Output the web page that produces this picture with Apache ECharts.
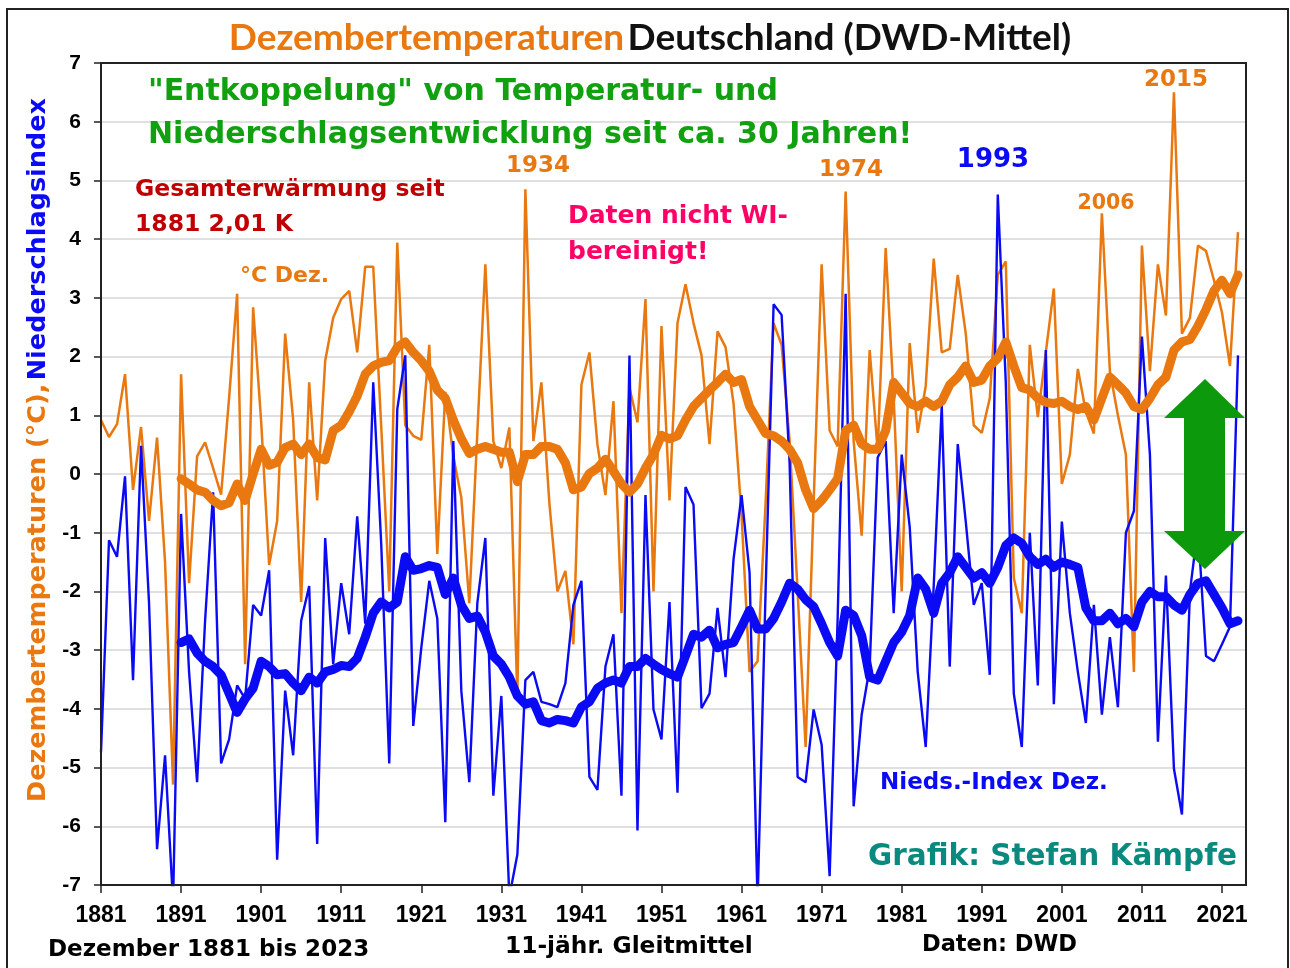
<!DOCTYPE html>
<html>
<head>
<meta charset="utf-8">
<style>
  html, body { margin: 0; padding: 0; background: #fff; }
  #main { width: 1290px; height: 968px; }
</style>
</head>
<body>
<div id="main"></div>
<script src="https://cdn.jsdelivr.net/npm/echarts@6/dist/echarts.min.js"></script>
<script>
// December temperature Germany (DWD mean) and precipitation index, 1881-2023
var firstYear = 1881;
var avgFirstYear = 1891;
var tickYears = [1881, 1891, 1901, 1911, 1921, 1931, 1941, 1951, 1961, 1971, 1981, 1991, 2001, 2011, 2021];

// °C December (thin orange)
var tempDez = [
  0.92, 0.63, 0.85, 1.70, -0.27, 0.80, -0.80, 0.62, -1.50, -5.29,   // 1881-1890
  1.70, -1.86, 0.30, 0.54, 0.10, -0.35, 1.30, 3.07, -3.24, 2.84,    // 1891-1900
  0.90, -1.55, -0.80, 2.39, 0.92, -2.18, 1.56, -0.45, 1.93, 2.66,   // 1901-1910
  2.98, 3.12, 2.07, 3.53, 3.53, 0.80, -2.00, 3.94, 0.83, 0.65,      // 1911-1920
  0.58, 2.20, -1.36, 1.40, 0.30, -0.40, -2.20, 0.70, 3.57, 0.56,    // 1921-1930
  0.10, 0.79, -3.80, 4.85, 0.56, 1.56, -0.50, -2.00, -1.65, -2.90,  // 1931-1940
  1.52, 2.07, 0.50, -0.36, 1.24, -2.37, 1.47, 0.88, 2.98, -2.00,    // 1941-1950
  2.52, -0.45, 2.57, 3.23, 2.57, 2.02, 0.51, 2.43, 2.16, 1.20,      // 1951-1960
  -0.70, -3.37, -3.19, -0.50, 2.57, 2.20, 0.56, -2.00, -4.65, -0.50, // 1961-1970
  3.57, 0.74, 0.47, 4.81, 0.56, -1.05, 2.11, 0.40, 3.85, 1.30,      // 1971-1980
  -2.00, 2.23, 0.70, 1.50, 3.67, 2.07, 2.13, 3.39, 2.39, 0.83,      // 1981-1990
  0.70, 1.29, 3.39, 3.62, -1.77, -2.37, 2.20, 0.97, 2.07, 3.16,     // 1991-2000
  -0.17, 0.33, 1.79, 1.06, 0.69, 4.44, 1.75, 1.00, 0.33, -3.37,     // 2001-2010
  3.89, 1.75, 3.57, 2.70, 6.50, 2.39, 2.66, 3.89, 3.80, 3.30,       // 2011-2020
  2.75, 1.84, 4.12                                                  // 2021-2023
];

// 11-year moving mean of temperature (thick orange), 1891-2023
var tempAvg = [
  -0.08, -0.17, -0.27, -0.31, -0.45, -0.54, -0.49, -0.17, -0.45, 0.00, // 1891-1900
  0.42, 0.15, 0.20, 0.45, 0.51, 0.33, 0.51, 0.28, 0.24, 0.74,          // 1901-1910
  0.83, 1.06, 1.33, 1.70, 1.84, 1.90, 1.93, 2.16, 2.25, 2.07,          // 1911-1920
  1.93, 1.75, 1.43, 1.29, 0.92, 0.60, 0.35, 0.42, 0.47, 0.42,          // 1921-1930
  0.37, 0.37, -0.13, 0.33, 0.33, 0.47, 0.47, 0.42, 0.19, -0.27,        // 1931-1940
  -0.22, 0.01, 0.10, 0.25, 0.05, -0.17, -0.31, -0.17, 0.10, 0.33,      // 1941-1950
  0.66, 0.60, 0.65, 0.92, 1.15, 1.29, 1.43, 1.56, 1.70, 1.56,          // 1951-1960
  1.61, 1.15, 0.92, 0.69, 0.65, 0.56, 0.42, 0.19, -0.27, -0.59,        // 1961-1970
  -0.45, -0.27, -0.08, 0.74, 0.83, 0.51, 0.42, 0.42, 0.74, 1.56,       // 1971-1980
  1.38, 1.20, 1.15, 1.24, 1.15, 1.24, 1.52, 1.65, 1.84, 1.56,          // 1981-1990
  1.60, 1.84, 1.97, 2.25, 1.84, 1.47, 1.43, 1.29, 1.22, 1.20,          // 1991-2000
  1.24, 1.15, 1.10, 1.15, 0.92, 1.29, 1.65, 1.52, 1.38, 1.15,          // 2001-2010
  1.10, 1.29, 1.52, 1.65, 2.11, 2.25, 2.29, 2.52, 2.80, 3.12,          // 2011-2020
  3.30, 3.07, 3.39                                                     // 2021-2023
];

// precipitation index December (thin blue)
var niedsIdx = [
  -4.74, -1.13, -1.41, -0.04, -3.51, 0.48, -2.20, -6.39, -4.79, -7.30, // 1881-1890
  -0.68, -3.37, -5.25, -2.50, -0.31, -4.93, -4.52, -3.60, -3.83, -2.23, // 1891-1900
  -2.41, -1.64, -6.57, -3.69, -4.79, -2.50, -1.91, -6.30, -1.09, -3.24, // 1901-1910
  -1.86, -2.73, -0.72, -2.55, 1.56, -1.20, -4.93, 1.10, 2.02, -4.29,    // 1911-1920
  -2.96, -1.82, -2.46, -5.93, 0.56, -3.69, -5.25, -2.20, -1.09, -5.48,  // 1921-1930
  -3.78, -7.20, -6.48, -3.51, -3.37, -3.88, -3.92, -3.97, -3.56, -2.23, // 1931-1940
  -1.82, -5.16, -5.38, -3.28, -2.73, -5.48, 2.02, -6.07, -0.36, -4.01,  // 1941-1950
  -4.52, -2.18, -5.43, -0.22, -0.52, -3.99, -3.74, -2.28, -3.46, -1.45, // 1951-1960
  -0.36, -1.68, -7.30, -2.00, 2.89, 2.71, 0.19, -5.16, -5.25, -4.01,    // 1961-1970
  -4.61, -6.85, -2.46, 3.07, -5.66, -4.10, -3.30, 0.28, 0.56, -2.37,    // 1971-1980
  0.33, -0.90, -3.37, -4.65, -1.90, 1.16, -3.28, 0.51, -0.81, -2.23,    // 1981-1990
  -1.86, -3.42, 4.76, 1.56, -3.74, -4.65, -1.00, -3.60, 2.11, -3.92,    // 1991-2000
  -0.81, -2.37, -3.37, -4.24, -2.23, -4.10, -2.78, -3.97, -1.00, -0.63, // 2001-2010
  2.34, 0.33, -4.56, -1.73, -5.02, -5.80, -2.00, -0.90, -3.10, -3.19,   // 2011-2020
  -2.90, -2.60, 2.02                                                    // 2021-2023
];

// 11-year moving mean of precipitation index (thick blue), 1891-2023
var niedsAvg = [
  -2.87, -2.81, -3.05, -3.19, -3.28, -3.42, -3.74, -4.06, -3.83, -3.65, // 1891-1900
  -3.19, -3.28, -3.42, -3.40, -3.56, -3.69, -3.46, -3.56, -3.37, -3.33, // 1901-1910
  -3.26, -3.28, -3.14, -2.78, -2.37, -2.18, -2.28, -2.18, -1.41, -1.64, // 1911-1920
  -1.61, -1.56, -1.59, -2.05, -1.77, -2.23, -2.46, -2.42, -2.69, -3.10, // 1921-1930
  -3.24, -3.46, -3.78, -3.92, -3.88, -4.20, -4.24, -4.18, -4.20, -4.24, // 1931-1940
  -3.97, -3.88, -3.65, -3.56, -3.51, -3.56, -3.28, -3.28, -3.14, -3.24, // 1941-1950
  -3.33, -3.40, -3.46, -3.10, -2.73, -2.78, -2.66, -2.96, -2.90, -2.87, // 1951-1960
  -2.60, -2.32, -2.64, -2.64, -2.46, -2.18, -1.86, -1.96, -2.14, -2.26, // 1961-1970
  -2.55, -2.87, -3.10, -2.32, -2.41, -2.75, -3.46, -3.51, -3.19, -2.87, // 1971-1980
  -2.69, -2.41, -1.77, -1.96, -2.37, -1.86, -1.68, -1.41, -1.59, -1.77, // 1981-1990
  -1.68, -1.86, -1.59, -1.22, -1.09, -1.18, -1.41, -1.54, -1.45, -1.59, // 1991-2000
  -1.50, -1.54, -1.59, -2.28, -2.50, -2.50, -2.37, -2.55, -2.46, -2.60, // 2001-2010
  -2.18, -2.00, -2.09, -2.09, -2.23, -2.32, -2.05, -1.86, -1.82, -2.05, // 2011-2020
  -2.28, -2.55, -2.50                                                   // 2021-2023
];

var ORANGE = '#E8780F';
var BLUE = '#0A0AF5';

function pairs(start, values) {
  return values.map(function (v, i) { return [start + i, v]; });
}

var chart = echarts.init(document.getElementById('main'));

var wide = '"DejaVu Sans", Verdana, sans-serif';
var arial = '"Liberation Sans", Arial, sans-serif';

function label(text, x, y, color, size, align) {
  return {
    type: 'text', x: x, y: y, z: 100,
    style: {
      text: text, fill: color, fontSize: size, fontWeight: 'bold',
      fontFamily: wide, align: align || 'left', verticalAlign: 'middle'
    }
  };
}

var option = {
  backgroundColor: '#fff',
  animation: false,
  grid: {
    left: 101, right: 44, top: 63, bottom: 83,
    outerBoundsMode: 'none'
  },
  xAxis: {
    type: 'value', min: 1881, max: 2024,
    axisLine: { show: true, onZero: false, lineStyle: { color: '#222', width: 2 } },
    axisTick: { show: true, inside: false, length: 8, customValues: tickYears, lineStyle: { color: '#222', width: 1.5 } },
    axisLabel: {
      customValues: tickYears, margin: 19, color: '#000',
      fontSize: 23, fontWeight: 'bold', fontFamily: arial,
      formatter: function (v) { return String(v); }
    },
    splitLine: { show: false }
  },
  yAxis: {
    type: 'value', min: -7, max: 7, interval: 1,
    axisLine: { show: true, onZero: false, lineStyle: { color: '#222', width: 2 } },
    axisTick: { show: true, inside: false, length: 7, lineStyle: { color: '#222', width: 1.5 } },
    axisLabel: {
      margin: 20, color: '#000', fontSize: 21, fontWeight: 'bold', fontFamily: arial
    },
    splitLine: { show: true, lineStyle: { color: '#d6d6d6', width: 1.5 } }
  },
  series: [
    {
      name: '°C Dez.', type: 'line', data: pairs(firstYear, tempDez),
      showSymbol: false, symbol: 'none',
      lineStyle: { color: ORANGE, width: 2.5 }, z: 2
    },
    {
      name: 'Nieds.-Index Dez.', type: 'line', data: pairs(firstYear, niedsIdx),
      showSymbol: false, symbol: 'none',
      lineStyle: { color: BLUE, width: 2.4 }, z: 3
    },
    {
      name: 'Gleitmittel Temperatur', type: 'line', data: pairs(avgFirstYear, tempAvg),
      showSymbol: false, symbol: 'none',
      lineStyle: { color: ORANGE, width: 9, join: 'round', cap: 'round' }, z: 4
    },
    {
      name: 'Gleitmittel Niederschlag', type: 'line', data: pairs(avgFirstYear, niedsAvg),
      showSymbol: false, symbol: 'none',
      lineStyle: { color: BLUE, width: 9, join: 'round', cap: 'round' }, z: 5
    }
  ],
  graphic: [
    // outer frame
    { type: 'rect', z: 0, shape: { x: 7, y: 9, width: 1281, height: 970 },
      style: { fill: 'none', stroke: '#222', lineWidth: 2 } },
    // plot frame
    { type: 'rect', z: 95, silent: true, shape: { x: 101, y: 63, width: 1145, height: 822 },
      style: { fill: 'none', stroke: '#222', lineWidth: 2 } },
    // title
    { type: 'text', x: 650, y: 38, z: 100,
      style: {
        text: '{o|Dezembertemperaturen} {k|Deutschland (DWD-Mittel)}',
        align: 'center', verticalAlign: 'middle',
        rich: {
          o: { fill: ORANGE, fontSize: 37, fontWeight: 'bold', fontFamily: 'Lato, sans-serif' },
          k: { fill: '#111', fontSize: 37, fontWeight: 'bold', fontFamily: 'Lato, sans-serif' }
        }
      } },
    // y axis title
    { type: 'text', x: 38, y: 450, rotation: Math.PI / 2, z: 100,
      style: {
        text: '{o|Dezembertemperaturen (°C),} {b|Niederschlagsindex}',
        align: 'center', verticalAlign: 'middle',
        rich: {
          o: { fill: ORANGE, fontSize: 25.5, fontWeight: 'bold', fontFamily: wide },
          b: { fill: BLUE, fontSize: 25.5, fontWeight: 'bold', fontFamily: wide }
        }
      } },
    label('"Entkoppelung" von Temperatur- und', 148, 92, '#10A010', 30),
    label('Niederschlagsentwicklung seit ca. 30 Jahren!', 148, 135, '#10A010', 30),
    label('Gesamterwärmung seit', 135, 190, '#C00000', 23.5),
    label('1881 2,01 K', 135, 225, '#C00000', 23.5),
    label('°C Dez.', 240, 276, ORANGE, 22),
    label('1934', 538, 166, ORANGE, 23, 'center'),
    label('1974', 851, 170, ORANGE, 23, 'center'),
    label('1993', 993, 160, BLUE, 26, 'center'),
    label('2006', 1106, 204, ORANGE, 20.5, 'center'),
    label('2015', 1176, 80, ORANGE, 23, 'center'),
    label('Daten nicht WI-', 568, 216, '#FF0066', 25),
    label('bereinigt!', 568, 252, '#FF0066', 25),
    label('Nieds.-Index Dez.', 880, 783, BLUE, 23),
    label('Grafik: Stefan Kämpfe', 868, 857, '#0A8A7E', 29.5),
    label('Dezember 1881 bis 2023', 48, 950, '#000', 23),
    label('11-jähr. Gleitmittel', 505, 947, '#000', 23.3),
    label('Daten: DWD', 922, 945, '#000', 22.5),
    // green double arrow
    { type: 'polygon', z: 90,
      shape: { points: [
        [1205, 379], [1245, 418], [1225, 418], [1225, 531], [1245, 531],
        [1205, 569], [1164, 531], [1184, 531], [1184, 418], [1164, 418]
      ] },
      style: { fill: '#0C9A0C' } }
  ]
};

chart.setOption(option);
</script>
</body>
</html>
